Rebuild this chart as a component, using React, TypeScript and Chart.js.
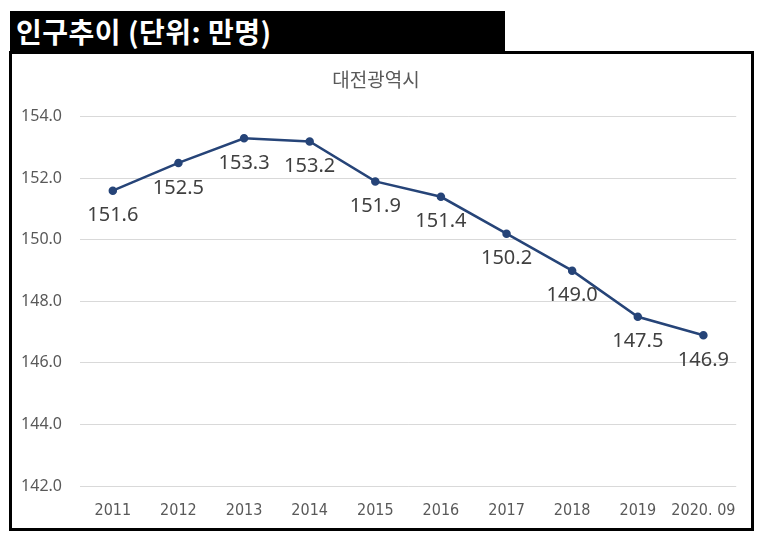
import React, { useEffect, useRef } from "react";
import { Chart, registerables } from "chart.js";

Chart.register(...registerables);

const years = ["2011", "2012", "2013", "2014", "2015", "2016", "2017", "2018", "2019", "2020. 09"];
const population = [151.6, 152.5, 153.3, 153.2, 151.9, 151.4, 150.2, 149.0, 147.5, 146.9];
const yTicks = [142, 144, 146, 148, 150, 152, 154];

const headerText = "인구추이 (단위: 만명)";
const chartTitle = "대전광역시";

const lineColor = "#264478";
const labelGray = "#595959";

// draws each value under its point, like the spreadsheet data labels
const valueLabels = {
  id: "valueLabels",
  afterDatasetsDraw(chart: Chart) {
    const ctx = chart.ctx;
    const meta = chart.getDatasetMeta(0);
    ctx.save();
    ctx.font = "20px 'Noto Sans', sans-serif";
    ctx.fillStyle = "#404040";
    ctx.textAlign = "center";
    ctx.textBaseline = "middle";
    meta.data.forEach((pt, i) => {
      ctx.fillText(population[i].toFixed(1), pt.x, pt.y + 25);
    });
    ctx.restore();
  },
};

function PopulationChart() {
  const canvasRef = useRef<HTMLCanvasElement>(null);

  useEffect(() => {
    const ctx = canvasRef.current?.getContext("2d");
    if (!ctx) return;

    const chart = new Chart(ctx, {
      type: "line",
      data: {
        labels: years,
        datasets: [
          {
            data: population,
            borderColor: lineColor,
            backgroundColor: lineColor,
            borderWidth: 2.5,
            pointRadius: 3,
            pointHoverRadius: 3,
            tension: 0,
          },
        ],
      },
      options: {
        animation: false,
        responsive: true,
        maintainAspectRatio: false,
        layout: { padding: { left: 0, right: 11, top: 0, bottom: 0 } },
        plugins: {
          legend: { display: false },
          tooltip: { enabled: false },
          title: {
            display: true,
            text: chartTitle,
            color: labelGray,
            font: { family: "'Noto Sans CJK KR', sans-serif", size: 19, weight: "normal" },
            padding: { top: 14, bottom: 26 },
          },
        },
        scales: {
          x: {
            offset: true,
            grid: { display: false, drawTicks: false },
            border: { display: false },
            afterFit: (axis) => {
              axis.height = 42;
            },
            ticks: {
              color: labelGray,
              padding: 15,
              autoSkip: false,
              maxRotation: 0,
              font: { family: "'Liberation Sans Narrow', 'DejaVu Sans Condensed', sans-serif", size: 16 },
            },
          },
          y: {
            min: 142,
            max: 154,
            afterBuildTicks: (axis) => {
              axis.ticks = yTicks.map((v) => ({ value: v }));
            },
            afterFit: (axis) => {
              axis.width = 68;
            },
            grid: { color: "#d9d9d9", drawTicks: false },
            border: { display: false },
            ticks: {
              color: labelGray,
              padding: 18,
              font: { family: "'Noto Sans', sans-serif", size: 16 },
              callback: (v) => Number(v).toFixed(1),
            },
          },
        },
      },
      plugins: [valueLabels],
    });

    return () => {
      chart.destroy();
    };
  }, []);

  return (
    <div
      style={{
        position: "absolute",
        left: 9,
        top: 51,
        width: 745,
        height: 480,
        border: "3px solid #000",
        boxSizing: "border-box",
        background: "#fff",
      }}
    >
      <canvas ref={canvasRef} />
    </div>
  );
}

export default function App() {
  return (
    <div style={{ position: "absolute", left: 0, top: 0, width: 763, height: 544, background: "#fff" }}>
      <div
        style={{
          position: "absolute",
          left: 10,
          top: 11,
          width: 495,
          height: 41,
          background: "#000",
          color: "#fff",
          fontFamily: "'Noto Sans CJK KR', sans-serif",
          fontWeight: "bold",
          fontSize: 28,
          letterSpacing: 0.5,
          lineHeight: "41px",
          paddingLeft: 6,
          boxSizing: "border-box",
          whiteSpace: "nowrap",
        }}
      >
        {headerText}
      </div>
      <PopulationChart />
    </div>
  );
}
